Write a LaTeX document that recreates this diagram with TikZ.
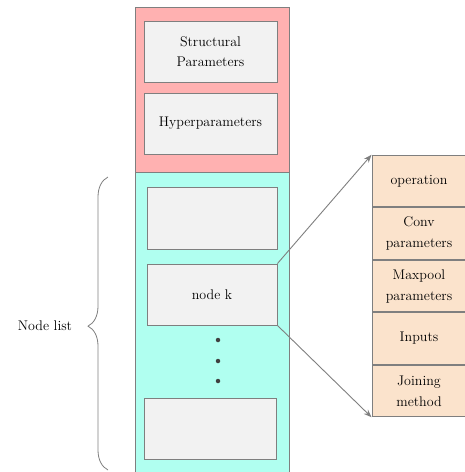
\documentclass[tikz,border=0pt]{standalone}
\usetikzlibrary{arrows.meta,decorations.pathreplacing}
\definecolor{pinkbg}{HTML}{FFB1B1}
\definecolor{cyanbg}{HTML}{B0FFF0}
\definecolor{boxgray}{HTML}{F2F2F2}
\definecolor{peach}{HTML}{FBE3CC}
\definecolor{edge}{HTML}{7F7F7F}
\tikzset{
  every node/.style={font=\rmfamily\fontsize{14}{19.5}\selectfont, align=center, inner sep=0pt},
  panel/.style={draw=edge, line width=0.9pt, rectangle},
  cell/.style={draw=edge, line width=0.9pt, rectangle, fill=boxgray},
  field/.style={draw=edge, line width=0.9pt, rectangle, fill=peach, minimum width=94pt, minimum height=51.6pt, font=\rmfamily\fontsize{14}{21}\selectfont},
  link/.style={draw=edge, line width=0.9pt, -{Stealth[length=8pt,width=6pt]}},
}
\begin{document}
\begin{tikzpicture}[x=1pt,y=-1pt]
\useasboundingbox (0,0) rectangle (465,472);
\clip (0,0) rectangle (465,472);
\node[panel, fill=pinkbg, minimum width=154pt, minimum height=165pt] (hdr) at (212,89.5) {};
\node[panel, fill=cyanbg, minimum width=154pt, minimum height=320pt] (lst) at (212,332) {};
\node[cell, minimum width=133pt, minimum height=61pt] (sp) at (210.5,51.5) {Structural\\Parameters};
\node[cell, minimum width=133pt, minimum height=61pt] (hp) at (210.5,123.5) {Hyperparameters};
\node[cell, minimum width=130pt, minimum height=62pt] (n1) at (212,218) {};
\node[cell, minimum width=130pt, minimum height=61pt] (nk) at (212,294.5) {node k};
\node[cell, minimum width=132pt, minimum height=61pt] (nl) at (210,428.5) {};
\foreach \y/\n in {340/d1,361/d2,381/d3}
  \node[circle, fill=black!75, minimum size=4.5pt] (\n) at (218,\y) {};
\node[field] (f1) at (419,181) {operation};
\node[field, anchor=north] (f2) at (f1.south) {Conv\\parameters};
\node[field, anchor=north] (f3) at (f2.south) {Maxpool\\parameters};
\node[field, anchor=north] (f4) at (f3.south) {Inputs};
\node[field, anchor=north] (f5) at (f4.south) {Joining\\method};
\draw[link] (nk.north east) -- (f1.north west);
\draw[link] (nk.south east) -- (f5.south west);
\coordinate (bt) at (108,177);
\coordinate (bb) at (108,470);
\draw[edge, line width=0.8pt, decorate, decoration={brace, amplitude=20pt, aspect=0.509, mirror}] (bt) -- (bb);
\node (lbl) at (45,326) {Node list};
\end{tikzpicture}
\end{document}
